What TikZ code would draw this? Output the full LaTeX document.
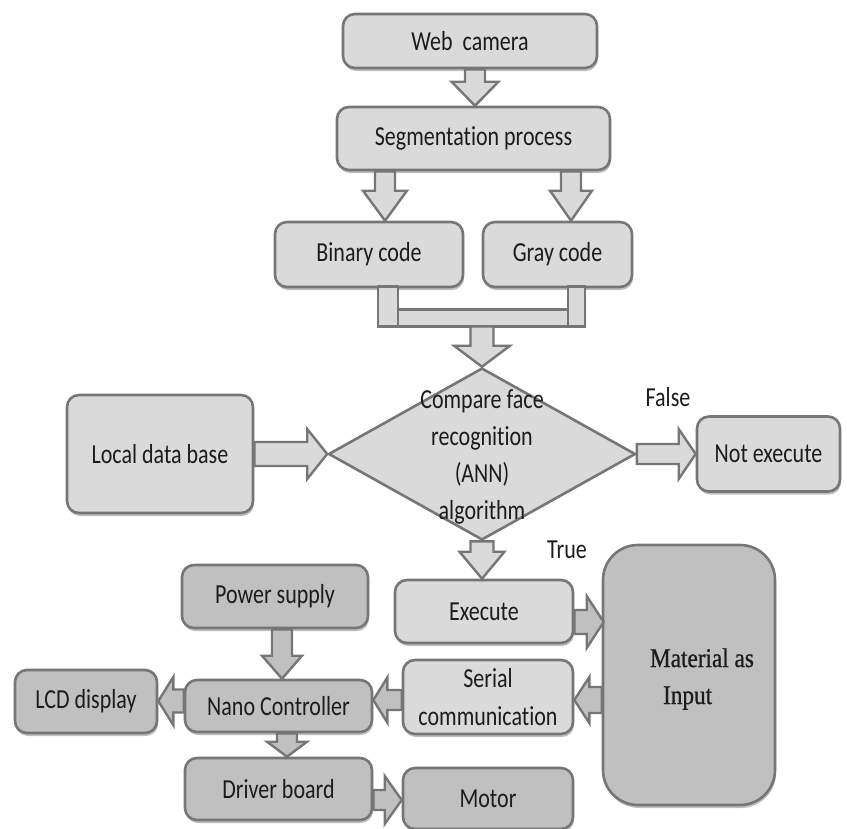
\documentclass[tikz,border=0pt]{standalone}
\usepackage{fontspec}
\setmainfont[FakeStretch=0.8, Ligatures=NoCommon]{Carlito}
\newfontfamily\matfont[FakeStretch=0.86, FakeBold=0.8]{Liberation Serif}
\usetikzlibrary{shapes.geometric,calc,shadows}
\definecolor{lightfill}{RGB}{218,218,218}
\definecolor{darkfill}{RGB}{192,192,192}
\definecolor{edge}{RGB}{118,118,118}
\definecolor{txt}{RGB}{28,28,28}
\tikzset{
  box/.style={draw=edge, line width=2.6bp, rounded corners=12bp, fill=lightfill,
    text=txt, font=\fontsize{27.5bp}{30bp}\selectfont, inner sep=0pt, align=center,
    drop shadow={shadow xshift=1bp, shadow yshift=-3bp, opacity=0.25, fill=black}},
  darkbox/.style={box, fill=darkfill},
  barrow/.style={draw=edge, line width=2.4bp, fill=lightfill},
  darkarrow/.style={fill=darkfill},
  lbl/.style={text=txt, font=\fontsize{27.5bp}{30bp}\selectfont, inner sep=0pt},
}
% #1 style, #2 from, #3 to, #4 shaft half width, #5 head half width, #6 head length
\newcommand\blockarrow[6][]{%
  \coordinate (ba) at #2;
  \coordinate (bb) at #3;
  \coordinate (bh) at ($(bb)!#6!(ba)$);
  \draw[barrow,#1] ($(ba)!#4!90:(bb)$) -- ($(bh)!#4!90:(bb)$) -- ($(bh)!#5!90:(bb)$)
    -- (bb) -- ($(bh)!#5!-90:(bb)$) -- ($(bh)!#4!-90:(bb)$) -- ($(ba)!#4!-90:(bb)$) -- cycle;
}
\begin{document}
\begin{tikzpicture}[x=1bp, y=-1bp]
\useasboundingbox (0,0) rectangle (847,829);

% boxes
\node[box, minimum width=254bp, minimum height=54bp] (web) at (470,41) {Web\ \ camera};
\node[box, minimum width=273bp, minimum height=63bp] (seg) at (473.5,138.5) {Segmentation process};
\node[box, minimum width=188bp, minimum height=65bp] (bin) at (369,254.5) {Binary code};
\node[box, minimum width=149bp, minimum height=65bp] (gray) at (557.5,254.5) {Gray code};
\node[box, minimum width=186bp, minimum height=118bp] (local) at (160,454) {Local data base};
\node[box, minimum width=143bp, minimum height=75bp] (notexec) at (768.5,454) {Not execute};
\node[diamond, draw=edge, line width=2.6bp, fill=lightfill, minimum width=307bp,
      minimum height=172bp, inner sep=0pt] (cmp) at (482,454) {};
\node[lbl, align=center, font=\fontsize{27.5bp}{37bp}\selectfont] (cmptext) at (482,457)
      {Compare face\\recognition\\(ANN)\\algorithm};
\node[lbl] (false) at (668,397) {False};
\node[lbl] (true) at (567,550) {True};
\node[box, minimum width=178bp, minimum height=63bp] (exec) at (484,611.5) {Execute};
\node[box, minimum width=170bp, minimum height=74bp, font=\fontsize{27.5bp}{38bp}\selectfont] (serial) at (488,697) {Serial\\communication};
\node[darkbox, rounded corners=35bp, minimum width=172bp, minimum height=260bp] (mat) at (689,675) {};
\node[text=txt, inner sep=0pt, align=left, font=\matfont\fontsize{27bp}{37bp}\selectfont] (mattext) at (702,679)
      {Material as\\\hspace*{13bp}Input};
\node[darkbox, minimum width=186bp, minimum height=63bp] (power) at (275,596.5) {Power supply};
\node[darkbox, minimum width=187bp, minimum height=52bp] (nano) at (278.5,706) {Nano Controller};
\node[darkbox, minimum width=142bp, minimum height=63bp] (lcd) at (86,701.5) {LCD display};
\node[darkbox, minimum width=187bp, minimum height=62bp] (driver) at (278.5,789) {Driver board};
\node[darkbox, minimum width=170bp, minimum height=61bp] (motor) at (488,798.5) {Motor};

% block arrows
\blockarrow{($(web.south)+(5,0)$)}{($(seg.north)+(1.5,0)$)}{10bp}{23.5bp}{24bp}
\blockarrow{($(seg.south)+(-88.5,0)$)}{($(bin.north)+(16,0)$)}{10bp}{22bp}{30bp}
\blockarrow{($(seg.south)+(97.5,0)$)}{($(gray.north)+(13.5,0)$)}{10bp}{21bp}{30bp}

% joining bar under binary / gray code
\draw[barrow] ($(bin.south)+(9,21)$) rectangle ($(gray.south)+(27.5,38)$);
\draw[barrow] ($(bin.south)+(9,-2)$) rectangle ($(bin.south)+(29,38)$);
\draw[barrow] ($(gray.south)+(10.5,-2)$) rectangle ($(gray.south)+(27.5,38)$);
\coordinate (join) at ($(bin.south)+(113,38)$);

\blockarrow{(join)}{(cmp.north)}{11.5bp}{28bp}{21bp}
\blockarrow{(local.east)}{(cmp.west)}{12bp}{25bp}{20bp}
\blockarrow{(cmp.east)}{(notexec.west)}{10bp}{25bp}{17bp}
\blockarrow{(cmp.south)}{($(exec.north)+(-2,0)$)}{11.5bp}{22.5bp}{27bp}
\blockarrow[darkarrow]{($(exec.east)+(0,10.5)$)}{($(mat.west |- exec.east)+(2,10.5)$)}{12bp}{26bp}{17bp}
\blockarrow[darkarrow]{($(mat.west |- serial.east)+(0,3)$)}{($(serial.east)+(0,3)$)}{13bp}{23bp}{15bp}
\blockarrow[darkarrow]{($(serial.west)+(0,3)$)}{($(nano.east)+(0,-6)$)}{10bp}{22.5bp}{14bp}
\blockarrow[darkarrow]{($(power.south)+(7,0)$)}{($(nano.north)+(3.5,0)$)}{10bp}{20bp}{23bp}
\blockarrow[darkarrow]{($(nano.west)+(0,-5)$)}{($(lcd.east)+(0,-0.5)$)}{11.5bp}{24bp}{15bp}
\blockarrow[darkarrow]{($(nano.south)+(8.5,0)$)}{($(driver.north)+(8.5,0)$)}{10bp}{20bp}{15bp}
\blockarrow[darkarrow]{($(driver.east)+(0,11)$)}{($(motor.west)+(0,1.5)$)}{10bp}{24bp}{17bp}
\end{tikzpicture}
\end{document}
